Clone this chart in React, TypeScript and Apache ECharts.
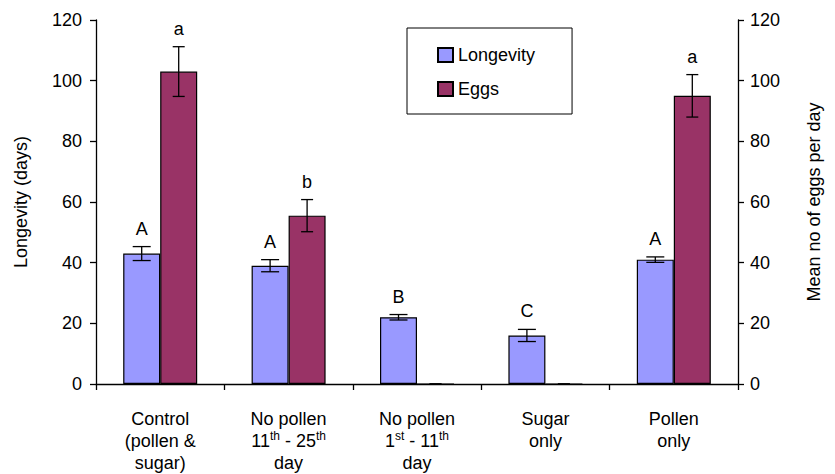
import React, { useEffect, useRef } from "react";
import * as echarts from "echarts";

const categories = [
  "Control\n(pollen &\nsugar)",
  "No pollen\n11th - 25th\nday",
  "No pollen\n1st - 11th\nday",
  "Sugar\nonly",
  "Pollen\nonly",
];
const longevity = [43, 39, 22, 16, 41];
const longevityErr = [2.3, 2, 0.9, 2, 0.9];
const longevityLetters = ["A", "A", "B", "C", "A"];
const eggs = [103, 55.5, 0, 0, 95];
const eggsErr = [8.2, 5.3, 0, 0, 7];
const eggsLetters = ["a", "b", "", "", "a"];

const FONT = "'Liberation Sans', Arial, Helvetica, sans-serif";
const BAR_W = 37;
const FS = 18;

function errSeries(name: string, vals: number[], errs: number[], letters: string[], offset: number, cap: number, yAxisIndex: number) {
  return {
    type: "custom",
    name,
    yAxisIndex,
    silent: true,
    z: 5,
    data: vals.map((v, i) => [i, v, errs[i]]),
    encode: { x: 0, y: 1 },
    renderItem: (params: any, api: any) => {
      const i = api.value(0);
      const v = api.value(1);
      const e = api.value(2);
      const top = api.coord([i, v + e]);
      const bot = api.coord([i, v - e]);
      const cx = top[0] + offset;
      const st = { stroke: "#000", lineWidth: 1.3 };
      const children: any[] = [
        { type: "line", shape: { x1: cx, y1: top[1], x2: cx, y2: bot[1] }, style: st },
        { type: "line", shape: { x1: cx - cap / 2, y1: top[1], x2: cx + cap / 2, y2: top[1] }, style: st },
        { type: "line", shape: { x1: cx - cap / 2, y1: bot[1], x2: cx + cap / 2, y2: bot[1] }, style: st },
      ];
      const letter = letters[params.dataIndex];
      if (letter) {
        children.push({
          type: "text",
          x: cx,
          y: top[1] - 18,
          style: {
            text: letter,
            fill: "#000",
            font: `${FS}px ${FONT}`,
            textAlign: "center",
            textVerticalAlign: "middle",
          },
        });
      }
      return { type: "group", children };
    },
  };
}

export default function App() {
  const ref = useRef<HTMLDivElement>(null);
  useEffect(() => {
    if (!ref.current) return;
    const chart = echarts.init(ref.current, undefined, { renderer: "svg" });
    const axisCommon = {
      type: "value",
      min: 0,
      max: 120,
      interval: 20,
      splitLine: { show: false },
      axisLine: { show: true, lineStyle: { color: "#000", width: 1.3 } },
      axisTick: { show: true, length: 6, lineStyle: { color: "#000", width: 1.3 } },
      nameLocation: "middle",
      nameTextStyle: { color: "#000", fontSize: FS, fontFamily: FONT },
    };
    chart.setOption({
      animation: false,
      backgroundColor: "#fff",
      textStyle: { fontFamily: FONT },
      grid: { left: 96, right: 97, top: 20, bottom: 90, containLabel: false, outerBoundsMode: "none" },
      legend: {
        data: ["Longevity", "Eggs"],
        orient: "vertical",
        left: 407,
        top: 28,
        padding: [18, 37, 16, 30],
        itemGap: 16,
        itemWidth: 15,
        itemHeight: 14,
        borderColor: "#000",
        borderWidth: 1,
        backgroundColor: "#fff",
        textStyle: { color: "#000", fontSize: FS, fontFamily: FONT },
        icon: "rect",
      },
      xAxis: {
        type: "category",
        data: categories,
        axisLine: { lineStyle: { color: "#000", width: 1.3 } },
        axisTick: { show: true, length: 6, alignWithLabel: false, lineStyle: { color: "#000", width: 1.3 } },
        axisLabel: {
          interval: 0,
          margin: 24,
          color: "#000",
          fontSize: FS,
          lineHeight: 22,
          fontFamily: FONT,
          formatter: (s: string) => s.replace(/(\d)(st|th)/g, "$1{sup|$2}"),
          rich: {
            sup: { fontSize: 12, lineHeight: 14, verticalAlign: "top", color: "#000", fontFamily: FONT },
          },
        },
      },
      yAxis: [
        {
          ...axisCommon,
          name: "Longevity (days)",
          nameGap: 66,
          position: "left",
          axisLabel: { color: "#000", fontSize: FS, fontFamily: FONT, margin: 14 },
        },
        {
          ...axisCommon,
          name: "Mean no of eggs per day",
          nameGap: 67,
          position: "right",
          axisLabel: { color: "#000", fontSize: FS, fontFamily: FONT, margin: 12 },
        },
      ],
      series: [
        {
          type: "bar",
          name: "Longevity",
          data: longevity,
          barWidth: BAR_W,
          barGap: "0%",
          itemStyle: { color: "#9999FF", borderColor: "#000", borderWidth: 1.2 },
        },
        {
          type: "bar",
          name: "Eggs",
          yAxisIndex: 1,
          data: eggs,
          barWidth: BAR_W,
          barGap: "0%",
          itemStyle: { color: "#993366", borderColor: "#000", borderWidth: 1.2 },
        },
        errSeries("LongevityErr", longevity, longevityErr, longevityLetters, -BAR_W / 2, 18, 0),
        errSeries("EggsErr", eggs, eggsErr, eggsLetters, BAR_W / 2, 12, 1),
      ],
    });
    return () => chart.dispose();
  }, []);
  return <div ref={ref} style={{ position: "absolute", left: 0, top: 0, width: 835, height: 474 }} />;
}
